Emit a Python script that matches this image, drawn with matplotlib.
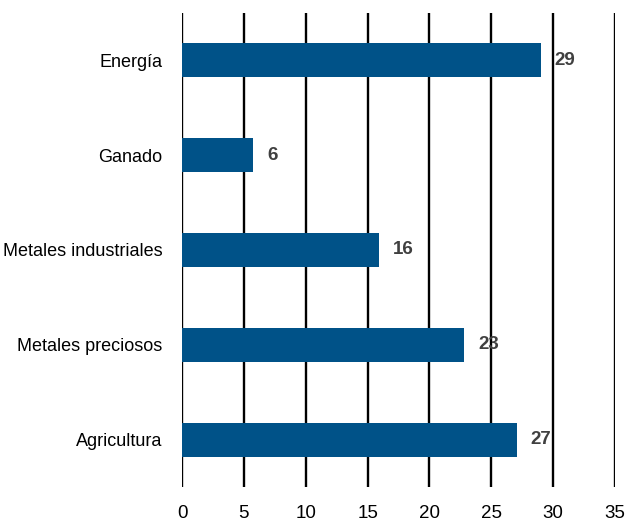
import matplotlib
matplotlib.use("Agg")
import matplotlib.pyplot as plt
from matplotlib import font_manager

categories = ["Energía", "Ganado", "Metales industriales", "Metales preciosos", "Agricultura"]
values = [29.0, 5.75, 15.9, 22.8, 27.05]
labels = ["29", "6", "16", "23", "27"]
xticks = [0, 5, 10, 15, 20, 25, 30, 35]

names = {f.name for f in font_manager.fontManager.ttflist}
fam = ["Liberation Sans Narrow", "Liberation Sans", "DejaVu Sans"]
fam = [f for f in fam if f in names] or ["DejaVu Sans"]
plt.rcParams["font.family"] = fam

fig = plt.figure(figsize=(6.27, 5.24), dpi=100)
ax = fig.add_axes([182/627, 1-487/524, (615-182)/627, (487-13)/524])

ypos = list(range(len(categories)))
ax.barh(ypos, values, height=0.36, color="#005288", zorder=3)
for y, v, l in zip(ypos, values, labels):
    ax.annotate(l, (v, y), xytext=(14, 0), textcoords="offset pixels",
                ha="left", va="center", fontsize=13.5, fontweight="bold", color="#404040", zorder=4)

ax.set_xlim(0, 35)
ax.set_ylim(4.5, -0.5)
ax.set_yticks(ypos)
ax.set_yticklabels(categories, fontsize=13, color="#000000")
ax.set_xticks(xticks)
ax.set_xticklabels([str(t) for t in xticks], fontsize=13.5)
for x in xticks:
    ax.axvline(x, color="black", lw=1.7, zorder=1)
for s in ax.spines.values():
    s.set_visible(False)
ax.tick_params(axis="both", length=0)
ax.tick_params(axis="y", pad=14)
ax.tick_params(axis="x", pad=13)

fig.savefig("out.png", dpi=100)
